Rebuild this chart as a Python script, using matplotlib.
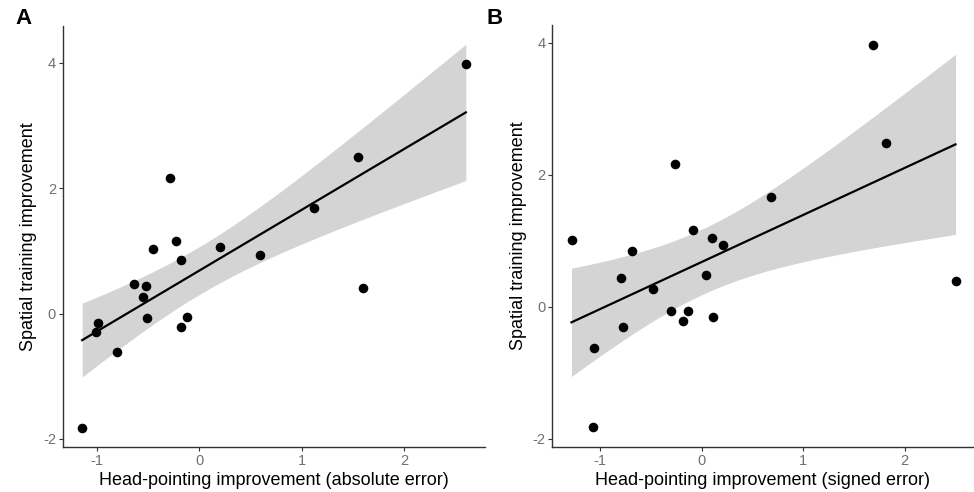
import numpy as np
import matplotlib.pyplot as plt

plt.rcParams['font.family'] = ['Liberation Sans', 'DejaVu Sans']
plt.rcParams['axes.unicode_minus'] = False

# panel A: head-pointing improvement (absolute error) vs spatial training improvement
abs_err = [2.60, 1.55, 1.12, -0.28, -0.23, 0.20, -0.45, -0.18, 0.59, -0.63,
           -0.52, -0.55, 1.60, -0.51, -0.12, -0.18, -0.99, -1.01, -0.80, -1.14]
spatial_a = [3.98, 2.49, 1.68, 2.16, 1.15, 1.06, 1.03, 0.85, 0.94, 0.47,
             0.44, 0.27, 0.41, -0.07, -0.05, -0.21, -0.15, -0.30, -0.61, -1.82]

# panel B: head-pointing improvement (signed error)
signed_err = [1.69, 1.82, -0.26, 0.68, -0.08, 0.10, 0.21, -1.28, -0.68, -0.79,
              -0.48, 0.04, 2.50, -0.30, -0.13, -0.18, 0.11, -0.77, -1.06, -1.07]
spatial_b = [3.97, 2.49, 2.16, 1.67, 1.16, 1.05, 0.94, 1.02, 0.84, 0.44,
             0.27, 0.48, 0.40, -0.06, -0.06, -0.22, -0.16, -0.31, -0.62, -1.82]

T975 = 2.100922  # t quantile, df = 18


def lm_band(x, y):
    x = np.asarray(x)
    y = np.asarray(y)
    n = len(x)
    b1, b0 = np.polyfit(x, y, 1)
    resid = y - (b0 + b1 * x)
    s = np.sqrt(np.sum(resid ** 2) / (n - 2))
    xs = np.linspace(x.min(), x.max(), 80)
    fit = b0 + b1 * xs
    se = s * np.sqrt(1 / n + (xs - x.mean()) ** 2 / np.sum((x - x.mean()) ** 2))
    return xs, fit, fit - T975 * se, fit + T975 * se


def panel(ax, x, y, xlabel, xlim, ylim):
    xs, fit, lo, hi = lm_band(x, y)
    ax.fill_between(xs, lo, hi, color='#d4d4d4', linewidth=0, zorder=1)
    ax.plot(xs, fit, color='black', linewidth=1.6, zorder=2)
    ax.scatter(x, y, s=48, color='black', zorder=3, linewidths=0)
    ax.set_xlim(*xlim)
    ax.set_ylim(*ylim)
    ax.set_xticks([-1, 0, 1, 2])
    ax.set_yticks([-2, 0, 2, 4])
    ax.set_xlabel(xlabel, fontsize=13, labelpad=3)
    ax.set_ylabel('Spatial training improvement', fontsize=13, labelpad=4)
    ax.tick_params(colors='#333333', labelcolor='#707070', labelsize=10.5,
                   length=3, width=0.8, pad=2)
    for side in ['top', 'right']:
        ax.spines[side].set_visible(False)
    for side in ['left', 'bottom']:
        ax.spines[side].set_color('#333333')
        ax.spines[side].set_linewidth(1.0)


fig = plt.figure(figsize=(9.74, 4.92), dpi=100)
ax1 = fig.add_axes([63 / 974, 45.3 / 492, 422 / 974, 420.7 / 492])
ax2 = fig.add_axes([552.3 / 974, 45.3 / 492, 421 / 974, 421.7 / 492])

panel(ax1, abs_err, spatial_a, 'Head-pointing improvement (absolute error)',
      (-1.327, 2.787), (-2.124, 4.585))
panel(ax2, signed_err, spatial_b, 'Head-pointing improvement (signed error)',
      (-1.469, 2.675), (-2.117, 4.27))

fig.text(15 / 974, 1 - 18 / 492, 'A', fontsize=16, fontweight='bold', va='center', ha='left')
fig.text(487 / 974, 1 - 18 / 492, 'B', fontsize=16, fontweight='bold', va='center', ha='left')

fig.savefig('out.png', dpi=100)
